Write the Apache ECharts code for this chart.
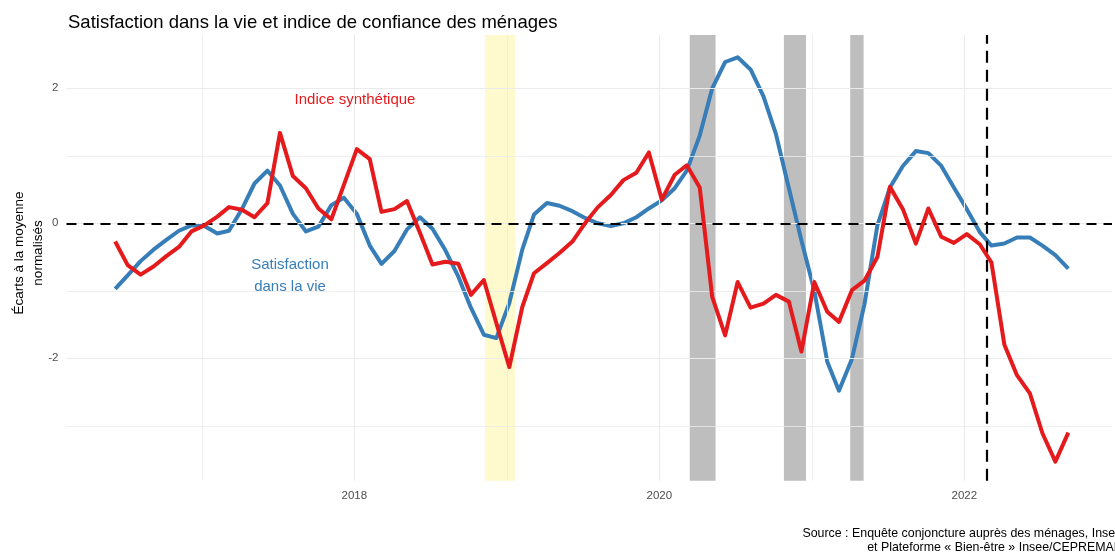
<!DOCTYPE html>
<html><head><meta charset="utf-8">
<script src="https://cdn.jsdelivr.net/npm/echarts@6/dist/echarts.min.js"></script>
<style>html,body{margin:0;padding:0;background:#fff;overflow:hidden}#c{width:1115px;height:554px}</style>
</head><body><div id="c"></div>
<script>
const months = ['2016-06','2016-07','2016-08','2016-09','2016-10','2016-11','2016-12',
'2017-01','2017-02','2017-03','2017-04','2017-05','2017-06','2017-07','2017-08','2017-09','2017-10','2017-11','2017-12',
'2018-01','2018-02','2018-03','2018-04','2018-05','2018-06','2018-07','2018-08','2018-09','2018-10','2018-11','2018-12',
'2019-01','2019-02','2019-03','2019-04','2019-05','2019-06','2019-07','2019-08','2019-09','2019-10','2019-11','2019-12',
'2020-01','2020-02','2020-03','2020-04','2020-05','2020-06','2020-07','2020-08','2020-09','2020-10','2020-11','2020-12',
'2021-01','2021-02','2021-03','2021-04','2021-05','2021-06','2021-07','2021-08','2021-09','2021-10','2021-11','2021-12',
'2022-01','2022-02','2022-03','2022-04','2022-05','2022-06','2022-07','2022-08','2022-09'];

const satisfaction = [-0.97,-0.77,-0.56,-0.39,-0.25,-0.11,-0.03,
-0.04,-0.15,-0.11,0.21,0.59,0.78,0.56,0.14,-0.12,-0.05,0.27,0.38,
0.14,-0.33,-0.60,-0.41,-0.09,0.09,-0.08,-0.40,-0.79,-1.25,-1.65,-1.70,
-1.18,-0.39,0.13,0.30,0.26,0.18,0.08,0.00,-0.04,0.00,0.09,0.22,
0.34,0.52,0.78,1.30,2.00,2.39,2.46,2.28,1.88,1.32,0.52,-0.25,
-1.00,-2.05,-2.48,-2.01,-1.20,-0.03,0.53,0.85,1.07,1.04,0.85,0.53,
0.21,-0.13,-0.33,-0.30,-0.21,-0.21,-0.33,-0.47,-0.67];

const indice = [-0.27,-0.62,-0.76,-0.64,-0.49,-0.35,-0.12,
-0.03,0.10,0.24,0.20,0.09,0.30,1.34,0.70,0.52,0.22,0.06,0.57,
1.10,0.95,0.17,0.21,0.33,-0.14,-0.61,-0.57,-0.60,-1.06,-0.84,-1.48,
-2.13,-1.24,-0.74,-0.59,-0.44,-0.27,0.00,0.24,0.42,0.64,0.75,1.05,
0.35,0.72,0.86,0.53,-1.09,-1.66,-0.87,-1.25,-1.19,-1.06,-1.16,-1.90,
-0.87,-1.31,-1.46,-0.99,-0.85,-0.50,0.54,0.21,-0.30,0.22,-0.20,-0.29,
-0.16,-0.31,-0.58,-1.80,-2.25,-2.52,-3.11,-3.53,-3.10];

const xTickLabels = [2018, 2020, 2022];
const xMinorBreaks = [2017, 2019, 2021];
const yTickLabels = [-2, 0, 2];
const yMinorBreaks = [-3, -1, 1];
const yellowBands = [['2018-11-10','2019-01-21']];
const greyBands = [['2020-03-14','2020-05-15'],['2020-10-26','2020-12-18'],['2021-04-03','2021-05-05']];
const eventDate = '2022-02-24';
const obsDay = '07';

function toYear(s){
  const p = s.split('-').map(Number);
  const y = p[0];
  const t = Date.UTC(y, p[1]-1, p[2]);
  const a = Date.UTC(y,0,1), b = Date.UTC(y+1,0,1);
  return y + (t-a)/(b-a);
}
const xs = months.map(m => toYear(m + '-' + obsDay));
const isInt = v => Math.abs(v - Math.round(v)) < 1e-6;

const chart = echarts.init(document.getElementById('c'), null, {renderer:'canvas'});
const FONT = 'Liberation Sans, Arial, sans-serif';
const gridColor = '#EBEBEB';

const option = {
  animation:false,
  backgroundColor:'#fff',
  textStyle:{fontFamily:FONT},
  grid:{left:66.5, width:1049, top:35, bottom:73.3, containLabel:false},
  xAxis:{type:'value', min:2016.1125, max:2022.9686,
    axisLine:{show:false}, axisTick:{show:false}, splitLine:{show:false},
    axisLabel:{interval:0, margin:9, color:'#4D4D4D', fontSize:11.5, fontFamily:FONT,
      formatter:v => (isInt(v) && xTickLabels.includes(Math.round(v))) ? String(Math.round(v)) : ''}},
  yAxis:{type:'value', min:-3.813, max:2.79,
    axisLine:{show:false}, axisTick:{show:false}, splitLine:{show:false},
    axisLabel:{margin:8, color:'#4D4D4D', fontSize:11.5, fontFamily:FONT,
      formatter:v => (isInt(v) && yTickLabels.includes(Math.round(v))) ? String(Math.round(v)) : ''}},
  title:{text:'Satisfaction dans la vie et indice de confiance des ménages', left:63, top:8,
    textStyle:{fontFamily:FONT, fontSize:18.5, fontWeight:'normal', color:'#000'}},
  graphic:[
    {type:'text', x:19, y:253, rotation:Math.PI/2, style:{text:'Écarts à la moyenne', fill:'#000', font:'13.5px '+FONT, textAlign:'center', textVerticalAlign:'middle'}},
    {type:'text', x:38, y:253, rotation:Math.PI/2, style:{text:'normalisés', fill:'#000', font:'13.5px '+FONT, textAlign:'center', textVerticalAlign:'middle'}},
    {type:'text', x:355, y:100, style:{text:'Indice synthétique', fill:'#E41A1C', font:'15px '+FONT, textAlign:'center', textVerticalAlign:'middle'}},
    {type:'text', x:290, y:265, style:{text:'Satisfaction', fill:'#377EB8', font:'15px '+FONT, textAlign:'center', textVerticalAlign:'middle'}},
    {type:'text', x:290, y:287, style:{text:'dans la vie', fill:'#377EB8', font:'15px '+FONT, textAlign:'center', textVerticalAlign:'middle'}},
    {type:'text', x:1122, y:534, style:{text:'Source : Enquête conjoncture auprès des ménages, Insee', fill:'#000', font:'12.4px '+FONT, textAlign:'right', textVerticalAlign:'middle'}},
    {type:'text', x:1122, y:548, style:{text:'et Plateforme « Bien-être » Insee/CEPREMAP', fill:'#000', font:'12.4px '+FONT, textAlign:'right', textVerticalAlign:'middle'}}
  ],
  series:[
    {type:'line', data:[], z:1, silent:true,
      markLine:{silent:true, symbol:'none', label:{show:false},
        data:[
          ...xTickLabels.map(v=>({xAxis:v, lineStyle:{color:gridColor, width:1.1, type:'solid'}})),
          ...xMinorBreaks.map(v=>({xAxis:v, lineStyle:{color:gridColor, width:0.8, type:'solid'}})),
          ...yTickLabels.map(v=>({yAxis:v, lineStyle:{color:gridColor, width:1.1, type:'solid'}})),
          ...yMinorBreaks.map(v=>({yAxis:v, lineStyle:{color:gridColor, width:0.8, type:'solid'}}))
        ]}},
    {type:'line', data:[], z:2, silent:true,
      markArea:{silent:true, label:{show:false},
        data:[
          ...yellowBands.map(b=>[{xAxis:toYear(b[0]), itemStyle:{color:'#FFFACD', opacity:1}},{xAxis:toYear(b[1])}]),
          ...greyBands.map(b=>[{xAxis:toYear(b[0]), itemStyle:{color:'#BEBEBE', opacity:1}},{xAxis:toYear(b[1])}])
        ]}},
    {type:'line', data:[], z:3, silent:true,
      markLine:{silent:true, symbol:'none', label:{show:false},
        data:[
          {yAxis:0, lineStyle:{color:'#000', width:2.2, type:[10,7]}},
          {xAxis:toYear(eventDate), lineStyle:{color:'#000', width:2.2, type:[12,7]}}
        ]}},
    {name:'Satisfaction dans la vie', type:'line', z:4, showSymbol:false, symbol:'none',
      data: xs.map((x,i)=>[x, satisfaction[i]]),
      lineStyle:{color:'#377EB8', width:4, cap:'butt', join:'round'}},
    {name:'Indice synthétique', type:'line', z:5, showSymbol:false, symbol:'none',
      data: xs.map((x,i)=>[x, indice[i]]),
      lineStyle:{color:'#E41A1C', width:4, cap:'butt', join:'round'}}
  ]
};
chart.setOption(option);
</script></body></html>
